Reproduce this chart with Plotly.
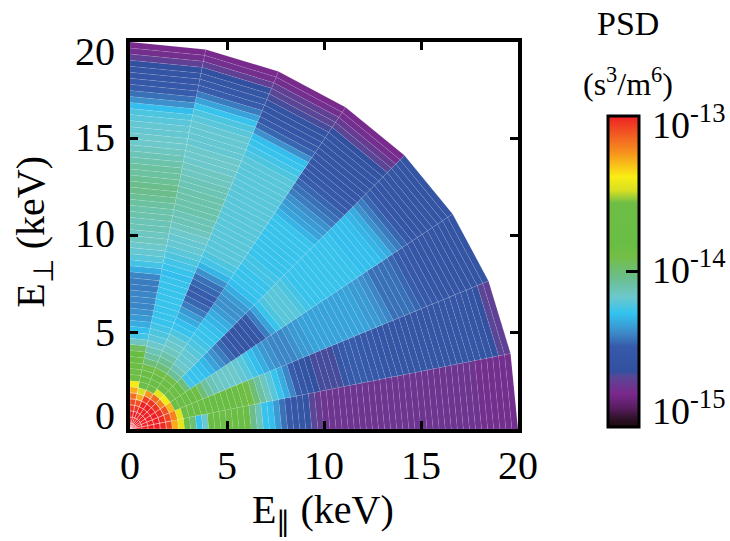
import numpy as np
import plotly.graph_objects as go
from plotly.colors import sample_colorscale

# Energy / pitch-angle bin edges
n_energy_bins = 64
energy_max_kev = 20.0
n_angle_bins = 8
energy_edges = np.linspace(0, energy_max_kev, n_energy_bins + 1)
angle_edges_deg = np.linspace(0, 90, n_angle_bins + 1)

# Position on the colour bar in percent (0 = 1e-15, 50 = 1e-14, 100 = 1e-13), read per energy bin
sector_1 = [100,100,100,100,100,99,96,86,78,68,50,37,42,60,64,66,66,65,62,58,48,44,37,36,32,28,25,23,22,20,16,14,13,13,13,13,13,13,13,13,13,13,13,13,13,13,13,13,13,13,13,13,13,13,13,13,13,13,12,12,12,12,12,12]
sector_2 = [100,100,100,100,100,99,96,90,78,70,66,64,62,60,60,60,60,60,58,57,55,50,46,43,40,37,34,30,26,23,20,18,17,17,17,17,22,25,26,26,25,24,24,23,23,22,22,22,22,22,22,22,22,22,22,22,22,22,22,21,21,19,16,15]
sector_3 = [100,100,100,100,100,99,95,85,72,65,62,60,56,50,46,44,43,42,42,42,41,40,38,36,34,32,31,30,30,30,31,32,32,33,33,33,33,33,33,33,33,33,33,32,32,31,30,28,28,28,28,27,26,25,24,23,22,22,22,21,21,21,21,21]
sector_4 = [100,100,100,100,100,98,90,80,70,66,62,50,38,37,37,36,35,33,31,29,27,25,23,22,21,22,25,29,33,37,39,40,40,40,39,38,37,37,37,37,37,37,37,37,37,37,36,36,36,36,35,34,31,29,27,25,23,22,22,22,22,21,21,21]
sector_5 = [100,100,100,100,100,98,92,78,68,62,55,47,44,42,41,41,40,39,38,37,37,36,35,34,32,31,31,32,34,36,37,37,37,38,38,37,37,37,37,37,37,37,37,35,33,32,31,29,28,27,26,25,24,23,22,22,21,21,20,18,16,14,12,11]
sector_6 = [100,100,100,100,100,97,88,72,64,60,55,50,47,45,43,42,41,39,37,36,34,32,29,27,26,26,27,28,31,35,38,39,40,40,40,40,40,40,40,40,40,40,40,40,40,40,40,40,40,39,38,37,36,31,27,25,23,21,20,17,16,15,12,11]
sector_7 = [100,100,100,98,95,86,76,68,62,58,54,50,46,44,42,40,39,38,37,37,37,37,37,37,37,37,36,37,38,39,40,41,41,42,43,44,44,45,45,45,45,44,44,43,43,42,42,42,41,41,41,41,40,39,37,33,29,26,24,22,18,15,12,11]
sector_8 = [100,100,100,98,96,92,86,80,72,66,63,62,60,52,43,38,36,34,32,31,30,30,30,29,29,30,34,38,40,41,42,43,43,44,44,45,45,46,47,48,48,47,46,46,45,44,43,42,42,41,41,40,39,36,31,28,26,24,23,21,18,15,12,11]
sectors = [sector_1, sector_2, sector_3, sector_4, sector_5, sector_6, sector_7, sector_8]

colorbar_stops = [0.0, 0.02, 0.064, 0.107, 0.16, 0.18, 0.258, 0.31, 0.365, 0.418, 0.48, 0.547, 0.59, 0.72, 0.76, 0.805, 0.88, 0.93, 1.0]
colorbar_colors = ["rgb(30,10,20)", "rgb(40,15,30)", "rgb(90,30,100)", "rgb(123,40,140)", "rgb(90,70,150)",
                   "rgb(50,80,160)", "rgb(55,90,170)", "rgb(60,145,205)", "rgb(50,195,240)", "rgb(109,200,205)",
                   "rgb(107,190,140)", "rgb(115,190,70)", "rgb(105,189,69)", "rgb(110,190,70)", "rgb(215,223,35)",
                   "rgb(249,237,20)", "rgb(247,148,29)", "rgb(242,101,34)", "rgb(238,32,36)"]
colorscale = [[s, c] for s, c in zip(colorbar_stops, colorbar_colors)]

axis_ticks = [0, 5, 10, 15, 20]
axis_labels = ["0", "5", "10", "15", "20"]
cbar_ticks = [-15, -14, -13]
cbar_labels = ["10<sup>-15</sup>", "10<sup>-14</sup>", "10<sup>-13</sup>"]

FONT = "Liberation Serif"
L, R, T, B = 130, 517.7, 42, 429.5
fig = go.Figure()

for a, values in enumerate(sectors):
    t0, t1 = np.radians(angle_edges_deg[a]), np.radians(angle_edges_deg[a + 1])
    for e, pos in enumerate(values):
        r0, r1 = energy_edges[e], energy_edges[e + 1]
        xs = [r0 * np.cos(t0), r1 * np.cos(t0), r1 * np.cos(t1), r0 * np.cos(t1), r0 * np.cos(t0)]
        ys = [r0 * np.sin(t0), r1 * np.sin(t0), r1 * np.sin(t1), r0 * np.sin(t1), r0 * np.sin(t0)]
        col = sample_colorscale(colorscale, [pos / 100.0])[0]
        seam, seam_w = (0.6, 0.6) if e < 7 else (0.2, 0.4)
        fig.add_trace(go.Scatter(x=xs, y=ys, mode="lines", fill="toself", fillcolor=col,
                                 line=dict(color=f"rgba(255,255,255,{seam})", width=seam_w),
                                 hoverinfo="skip", showlegend=False))

# Carrier of the colour bar
fig.add_trace(go.Scatter(x=[0, 0], y=[0, 0], mode="markers", showlegend=False, hoverinfo="skip",
                         marker=dict(size=0.01, color=[-15, -13], cmin=-15, cmax=-13, colorscale=colorscale, showscale=True,
                                     colorbar=dict(x=(608 - L) / (R - L), xanchor="left", xpad=0,
                                                   y=1 - (116 - T) / (B - T), yanchor="top", ypad=0,
                                                   len=311, lenmode="pixels", thickness=31, thicknessmode="pixels",
                                                   outlinecolor="black", outlinewidth=3,
                                                   tickmode="array", tickvals=cbar_ticks, showticklabels=False,
                                                   ticks="inside", ticklen=14, tickwidth=3, tickcolor="black"))))

axis_common = dict(range=[0, 20], tickmode="array", tickvals=axis_ticks, showgrid=False, zeroline=False,
                   showline=True, linecolor="black", linewidth=3.5, mirror="ticks", ticks="inside", ticklen=8,
                   tickwidth=3, tickcolor="black", automargin=False)

fig.update_xaxes(ticktext=axis_labels, tickfont=dict(family=FONT, size=40, color="black"), ticklabelstandoff=-2, **axis_common)
fig.update_yaxes(showticklabels=False, **axis_common)

def label(x, y, text, size, **kw):
    fig.add_annotation(xref="paper", yref="paper", x=(x - L) / (R - L), y=1 - (y - T) / (B - T), text=text, showarrow=False,
                       font=dict(family=FONT, size=size, color="black"), yanchor="middle", **kw)

# y tick labels: the end labels sit inside the frame's height, as in the reference
y_label_shift = [14, 0, 2, 1, -9]
for v, text, shift in zip(axis_ticks, axis_labels, y_label_shift):
    fig.add_annotation(xref="paper", yref="y", x=(117 - L) / (R - L), y=v, yshift=shift, text=text, showarrow=False,
                       font=dict(family=FONT, size=40, color="black"), xanchor="right", yanchor="middle")

# Axis titles
label(323, 513, "E<sub>\u2225</sub> (keV)", 40, xanchor="center")
label(33, 232, "E<sub>\u22a5</sub> (keV)", 40, xanchor="center", textangle=-90)

label(628, 23, "PSD", 34, xanchor="center")
label(628, 82, "(s<sup>3</sup>/m<sup>6</sup>)", 32, xanchor="center")
for y, text in zip([408, 267, 122], cbar_labels):
    label(650, y, text, 38, xanchor="left", width=90, align="left")

fig.update_layout(width=730, height=541, paper_bgcolor="white", plot_bgcolor="white",
                  margin=dict(l=L, r=730 - R, t=T, b=541 - B), showlegend=False)
fig.write_html("out.html", post_script="document.body.style.margin='0';", config=dict(displayModeBar=False))
